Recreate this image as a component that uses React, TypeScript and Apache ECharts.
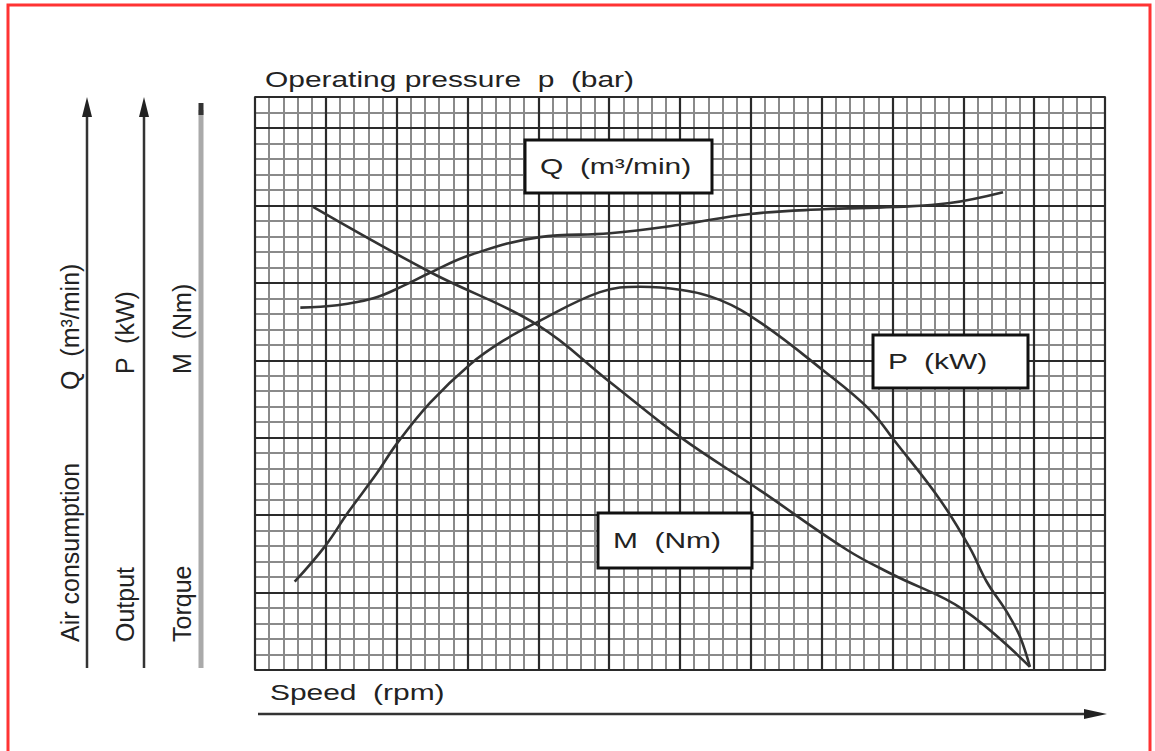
import React, { useEffect, useRef } from "react";
import * as echarts from "echarts";

// Speed axis in major grid divisions (12 columns), value axis in major divisions (7.4 rows)
const qSpeed = [0.64, 1.16, 1.67, 2.09, 2.47, 3.04, 4.02, 5.01, 6.0, 6.99, 8.02, 9.02, 9.81, 10.56];
const qValues = [4.68, 4.71, 4.8, 4.96, 5.13, 5.36, 5.59, 5.64, 5.75, 5.89, 5.95, 5.98, 6.03, 6.17];

const pSpeed = [0.56, 0.99, 1.31, 1.72, 2.0, 2.47, 3.04, 3.5, 3.98, 4.87, 5.44, 6.0, 6.56, 7.13, 8.02, 8.68, 9.02, 9.67, 10.09, 10.33, 10.62, 10.8, 10.94];
const pValues = [1.14, 1.6, 2.03, 2.54, 2.92, 3.45, 3.95, 4.25, 4.49, 4.88, 4.95, 4.91, 4.78, 4.49, 3.87, 3.36, 2.97, 2.2, 1.58, 1.14, 0.74, 0.43, 0.04];

const mSpeed = [0.82, 2.47, 3.98, 5.01, 6.0, 7.13, 8.36, 9.01, 10.0, 10.94];
const mValues = [5.98, 5.14, 4.46, 3.72, 3.01, 2.32, 1.55, 1.23, 0.78, 0.04];

const xMax = 12;
const yMax = 7.4;

const topTitle = "Operating pressure  p  (bar)";
const bottomTitle = "Speed  (rpm)";
const qLabel = "Q  (m³/min)";
const pLabel = "P  (kW)";
const mLabel = "M  (Nm)";
const leftNames = ["Air consumption", "Output", "Torque"];
const leftUnits = ["Q  (m³/min)", "P  (kW)", "M  (Nm)"];

const FONT = '"Liberation Sans", Arial, sans-serif';
const TXT = "#222";

function pairs(xs: number[], ys: number[]) {
  return xs.map((x, i) => [x, ys[i]]);
}

export default function App() {
  const ref = useRef<HTMLDivElement>(null);
  useEffect(() => {
    if (!ref.current) return;
    const chart = echarts.init(ref.current, undefined, { renderer: "svg" });
    const hx = 1.36; // horizontal text stretch
    const boxText = (x: number, y: number, w: number, h: number, text: string) => ({
      type: "group",
      children: [
        { type: "rect", shape: { x, y, width: w, height: h }, style: { fill: "#fff", stroke: "#111", lineWidth: 3 }, z: 10 },
        {
          type: "text",
          x: x + 15,
          y: y + h / 2,
          scaleX: hx,
          style: { text, font: `22px ${FONT}`, fill: TXT, textAlign: "left", textVerticalAlign: "middle" },
          z: 11,
        },
      ],
    });
    const vText = (x: number, y: number, text: string) => ({
      type: "text",
      x,
      y,
      rotation: Math.PI / 2,
      style: { text, font: `25px ${FONT}`, fill: TXT, textAlign: "left", textVerticalAlign: "middle" },
    });
    const arrowX = [87, 144];
    const graphics: any[] = [
      { type: "rect", shape: { x: 8, y: 5, width: 1142, height: 760 }, style: { fill: "none", stroke: "#ff3333", lineWidth: 3 } },
      { type: "text", x: 265, y: 79, scaleX: hx, style: { text: topTitle, font: `22px ${FONT}`, fill: TXT, textVerticalAlign: "middle" } },
      { type: "text", x: 270, y: 692, scaleX: hx, style: { text: bottomTitle, font: `22px ${FONT}`, fill: TXT, textVerticalAlign: "middle" } },
      { type: "line", shape: { x1: 258, y1: 714, x2: 1090, y2: 714 }, style: { stroke: "#333", lineWidth: 2.5 } },
      { type: "polygon", shape: { points: [[1084, 709], [1107, 714], [1084, 719]] }, style: { fill: "#222" } },
      ...arrowX.flatMap((x) => [
        { type: "line", shape: { x1: x, y1: 668, x2: x, y2: 112 }, style: { stroke: "#333", lineWidth: 2.5 } },
        { type: "polygon", shape: { points: [[x - 5, 117], [x, 97], [x + 5, 117]] }, style: { fill: "#222" } },
      ]),
      { type: "line", shape: { x1: 201, y1: 668, x2: 201, y2: 110 }, style: { stroke: "#aaa", lineWidth: 5 } },
      { type: "rect", shape: { x: 198.5, y: 103, width: 5, height: 12 }, style: { fill: "#333" } },
      vText(70, 642, leftNames[0]),
      vText(70, 390, leftUnits[0]),
      vText(125, 642, leftNames[1]),
      vText(125, 374, leftUnits[1]),
      vText(182, 642, leftNames[2]),
      vText(182, 374, leftUnits[2]),
      boxText(525, 140, 187, 53, qLabel),
      boxText(873, 335, 155, 53, pLabel),
      boxText(598, 513, 154, 55, mLabel),
    ];

    const curve = (name: string, xs: number[], ys: number[]) => ({
      name,
      type: "line",
      xAxisIndex: 0,
      yAxisIndex: 0,
      data: pairs(xs, ys),
      smooth: 0.4,
      showSymbol: false,
      symbol: "none",
      lineStyle: { color: "#333", width: 2.6 },
      z: 5,
    });

    chart.setOption({
      animation: false,
      backgroundColor: "#fff",
      grid: { left: 255, top: 97, width: 850, height: 573, show: true, borderColor: "#666", borderWidth: 2, backgroundColor: "transparent" },
      xAxis: [
        {
          type: "value", min: 0, max: xMax, interval: 1, z: 2,
          axisLine: { show: false }, axisTick: { show: false }, axisLabel: { show: false },
          splitLine: { show: true, lineStyle: { color: "#2a2a2a", width: 2.2 } },
        },
        {
          type: "value", min: 0, max: xMax, interval: 0.2, z: 1,
          axisLine: { show: false }, axisTick: { show: false }, axisLabel: { show: false },
          splitLine: { show: true, lineStyle: { color: "#8a8a8a", width: 2 } },
        },
      ],
      yAxis: [
        {
          type: "value", min: 0, max: yMax, interval: 1, z: 2,
          axisLine: { show: false }, axisTick: { show: false }, axisLabel: { show: false },
          splitLine: { show: true, lineStyle: { color: "#2a2a2a", width: 2.2 } },
        },
        {
          type: "value", min: 0, max: yMax, interval: 0.2, z: 1,
          axisLine: { show: false }, axisTick: { show: false }, axisLabel: { show: false },
          splitLine: { show: true, lineStyle: { color: "#8a8a8a", width: 2 } },
        },
      ],
      series: [curve("Q", qSpeed, qValues), curve("P", pSpeed, pValues), curve("M", mSpeed, mValues)],
      graphic: graphics,
    });
    return () => chart.dispose();
  }, []);
  return <div ref={ref} style={{ position: "fixed", left: 0, top: 0, width: 1155, height: 751, background: "#fff" }} />;
}
